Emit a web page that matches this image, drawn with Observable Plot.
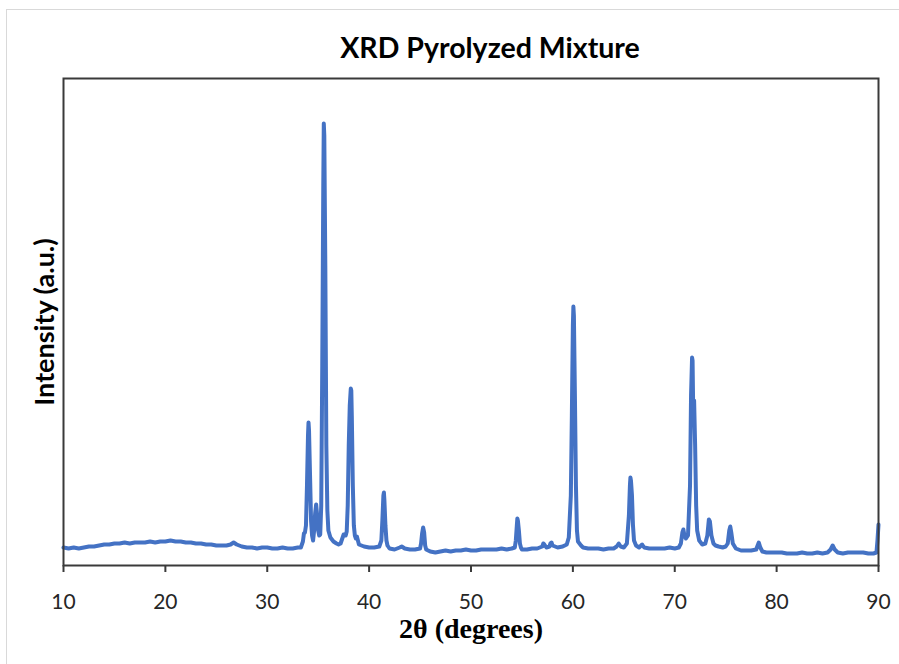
<!DOCTYPE html>
<html><head><meta charset="utf-8">
<script src="https://cdn.jsdelivr.net/npm/d3@7"></script>
<script src="https://cdn.jsdelivr.net/npm/@observablehq/plot@0.6"></script>
<style>
body{margin:0;background:#fff;}
#wrap{position:relative;width:899px;height:664px;overflow:hidden;background:#fff;}
#border{position:absolute;left:6px;top:9px;width:920px;height:700px;border-left:1px solid #d9d9d9;border-top:1px solid #d9d9d9;}
#chart{position:absolute;left:0;top:0;}
</style></head><body>
<div id="wrap"><div id="border"></div><div id="chart"></div></div>
<script>
const twoTheta = [
 10.0,10.5,11.0,11.5,12.0,12.5,13.0,13.5,14.0,14.5,15.0,15.5,16.0,16.5,17.0,17.5,18.0,18.5,19.0,19.5,
 20.0,20.5,21.0,21.5,22.0,22.5,23.0,23.5,24.0,24.5,25.0,25.5,26.0,26.4,26.7,27.0,27.5,28.0,28.5,29.0,
 29.5,30.0,30.5,31.0,31.5,32.0,32.5,33.0,33.3,33.5,33.6,33.7,33.8,33.9,34.0,34.05,34.1,34.2,34.3,34.4,
 34.5,34.6,34.7,34.8,34.9,35.0,35.1,35.2,35.3,35.4,35.5,35.55,35.6,35.7,35.8,35.9,36.0,36.2,36.5,36.8,
 37.0,37.2,37.4,37.5,37.6,37.7,37.8,37.9,38.0,38.1,38.2,38.25,38.3,38.4,38.5,38.6,38.7,38.8,38.9,39.0,
 39.5,40.0,40.5,41.0,41.2,41.3,41.4,41.45,41.5,41.6,41.7,41.8,42.0,42.5,43.0,43.2,43.5,44.0,44.5,45.0,
 45.1,45.2,45.3,45.4,45.5,45.6,46.0,46.5,47.0,47.5,48.0,48.5,49.0,49.5,50.0,50.5,51.0,51.5,52.0,52.5,
 53.0,53.5,54.0,54.3,54.4,54.5,54.55,54.6,54.7,54.8,54.9,55.0,55.5,56.0,56.5,57.0,57.1,57.2,57.4,57.7,
 57.8,57.9,58.0,58.5,59.0,59.4,59.6,59.8,59.9,60.0,60.05,60.1,60.2,60.3,60.4,60.5,60.8,61.0,61.5,62.0,
 62.5,63.0,63.5,64.0,64.3,64.5,64.7,65.0,65.3,65.5,65.6,65.65,65.7,65.8,65.9,66.0,66.2,66.5,66.8,67.0,
 67.5,68.0,68.5,69.0,69.5,70.0,70.4,70.6,70.75,70.85,70.95,71.1,71.3,71.5,71.6,71.7,71.75,71.8,71.9,72.0,
 72.1,72.2,72.4,72.7,73.0,73.2,73.35,73.45,73.6,73.8,74.0,74.3,74.7,75.0,75.2,75.35,75.45,75.55,75.7,76.0,
 76.5,77.0,77.5,78.0,78.1,78.25,78.4,78.6,79.0,79.5,80.0,80.5,81.0,81.5,82.0,82.5,83.0,83.5,84.0,84.5,
 85.0,85.3,85.5,85.7,86.0,86.5,87.0,87.5,88.0,88.5,89.0,89.5,89.8,89.9,90.0
];
const intensity = [
 18,17,18,17,18,19,19,20,21,21,22,22,23,22,23,23,23,24,23,24,
 24,25,24,24,23,23,22,22,21,21,20,20,20,21,23,21,19,18,18,17,
 18,18,17,17,18,17,17,18,18,24,32,33,40,80,130,143,135,90,45,30,
 25,35,52,61,50,35,30,31,60,200,380,442,430,300,120,55,35,28,24,22,
 21,22,28,31,30,30,34,60,120,160,177,175,150,80,40,30,27,29,25,21,
 19,18,18,19,25,45,70,73,65,40,25,20,17,16,18,19,17,16,16,17,
 22,32,38,33,20,16,14,13,14,15,14,15,15,16,15,15,16,16,16,16,
 17,16,17,18,25,40,47,45,35,22,18,16,16,17,17,19,22,21,18,19,
 22,23,20,18,19,21,28,70,150,240,259,250,170,80,35,24,20,18,17,17,
 17,16,17,17,19,22,19,18,22,50,80,88,85,70,40,25,20,18,21,18,
 17,17,17,17,18,17,18,22,33,36,30,27,30,80,170,208,205,165,165,120,
 60,35,25,21,22,30,46,44,30,22,20,19,18,19,22,35,39,33,22,17,
 15,15,15,16,19,23,18,14,13,13,13,13,12,12,12,13,12,12,13,12,
 13,16,20,16,13,12,13,13,13,13,12,12,13,25,41
];
const xTicks = [10,20,30,40,50,60,70,80,90];
const title = "XRD Pyrolyzed Mixture";
const xLabel = "2θ (degrees)";
const yLabel = "Intensity (a.u.)";

const data = twoTheta.map((x, i) => ({x, y: intensity[i]}));

const chart = Plot.plot({
  width: 899, height: 664,
  marginLeft: 63, marginRight: 21, marginTop: 78, marginBottom: 99,
  style: {background: "transparent", fontFamily: "Lato, sans-serif", overflow: "visible"},
  x: {domain: [10, 90]},
  y: {domain: [0, 487], axis: null},
  marks: [
    Plot.line(data, {x: "x", y: "y", stroke: "#4472C4", strokeWidth: 4, strokeLinejoin: "round", strokeLinecap: "round"}),
    Plot.frame({stroke: "#3a3a3a", strokeWidth: 2}),
    Plot.axisX({ticks: xTicks, tickSize: 7, tickPadding: 22, fontSize: 21, stroke: "#3a3a3a", fill: "#262626", strokeWidth: 2, tickFormat: d => String(d), label: null}),
    Plot.text([title], {text: d => d, frameAnchor: "top", dx: 19, dy: -41, fontSize: 28.5, fontWeight: "bold", fill: "#000", fontFamily: "Lato, sans-serif"}),
    Plot.text([yLabel], {text: d => d, frameAnchor: "left", textAnchor: "middle", rotate: -90, dx: -18, fontSize: 27, fontWeight: "bold", fill: "#000", fontFamily: "Lato, sans-serif"}),
    Plot.text([xLabel], {text: d => d, frameAnchor: "bottom", dy: 72, fontSize: 28, fontWeight: "bold", fill: "#000", fontFamily: "Liberation Serif, serif"})
  ]
});
document.getElementById("chart").appendChild(chart);
</script>
</body></html>
